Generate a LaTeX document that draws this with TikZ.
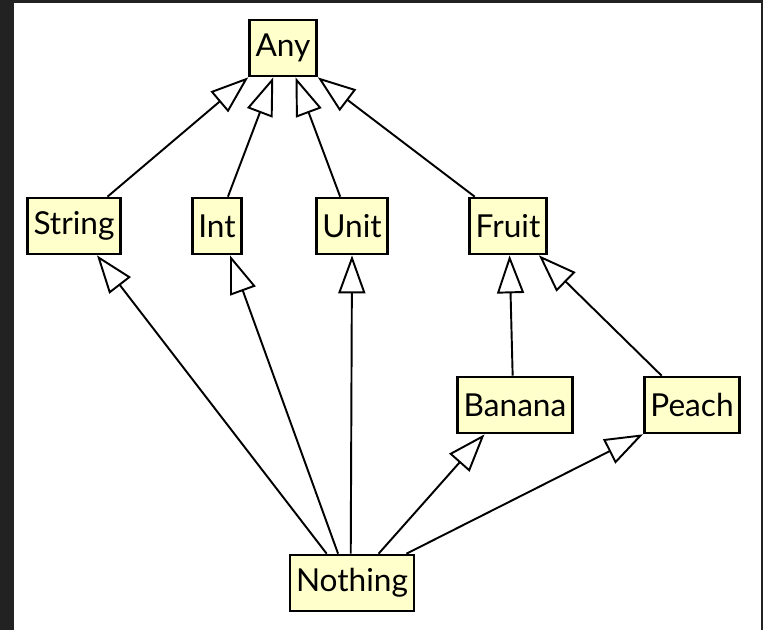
\documentclass[tikz,border=0pt]{standalone}
\usepackage{fontspec}
\setmainfont{Lato}
\usetikzlibrary{arrows.meta,calc}
\definecolor{boxyellow}{HTML}{FFFFCC}
\definecolor{framegray}{HTML}{222222}

\begin{document}
\begin{tikzpicture}[x=0.02cm,y=-0.02cm,
  cls/.style={draw,line width=1.5pt,fill=boxyellow,minimum height=1.12cm,
    inner xsep=0.12cm,font=\fontsize{18}{20}\selectfont},
  inherits/.style={line width=1.1pt,-{Triangle[open,length=0.76cm,width=0.54cm]}}]

% Frame
\fill[framegray] (0,0) rectangle (763,630);
\fill[white] (14,3) rectangle (761,630);

% Classes
\node[cls] (Any) at (283,48) {Any};
\node[cls] (String) at (74,226) {String};
\node[cls] (Int) at (217,226) {Int};
\node[cls] (Unit) at (352,226) {Unit};
\node[cls] (Fruit) at (508,226) {Fruit};
\node[cls] (Banana) at (515,405) {Banana};
\node[cls] (Peach) at (692,405) {Peach};
\node[cls] (Nothing) at (352,583) {Nothing};

% Subtypes of Any
\draw[inherits] ($(String.north west)!0.85!(String.north east)$) -- (Any.south west);
\draw[inherits] ($(Int.north west)!0.71!(Int.north east)$) -- ($(Any.south west)!0.36!(Any.south east)$);
\draw[inherits] ($(Unit.north west)!0.34!(Unit.north east)$) -- ($(Any.south west)!0.68!(Any.south east)$);
\draw[inherits] ($(Fruit.north west)!0.08!(Fruit.north east)$) -- (Any.south east);

% Subtypes of Fruit
\draw[inherits] ($(Banana.north west)!0.48!(Banana.north east)$) -- ($(Fruit.south west)!0.52!(Fruit.south east)$);
\draw[inherits] ($(Peach.north west)!0.19!(Peach.north east)$) -- ($(Fruit.south west)!0.89!(Fruit.south east)$);

% Nothing is a subtype of everything
\draw[inherits] ($(Nothing.north west)!0.30!(Nothing.north east)$) -- ($(String.south west)!0.74!(String.south east)$);
\draw[inherits] ($(Nothing.north west)!0.39!(Nothing.north east)$) -- ($(Int.south west)!0.75!(Int.south east)$);
\draw[inherits] ($(Nothing.north west)!0.49!(Nothing.north east)$) -- (Unit.south);
\draw[inherits] ($(Nothing.north west)!0.71!(Nothing.north east)$) -- ($(Banana.south west)!0.24!(Banana.south east)$);
\draw[inherits] ($(Nothing.north west)!0.93!(Nothing.north east)$) -- (Peach.south west);

\end{tikzpicture}
\end{document}
